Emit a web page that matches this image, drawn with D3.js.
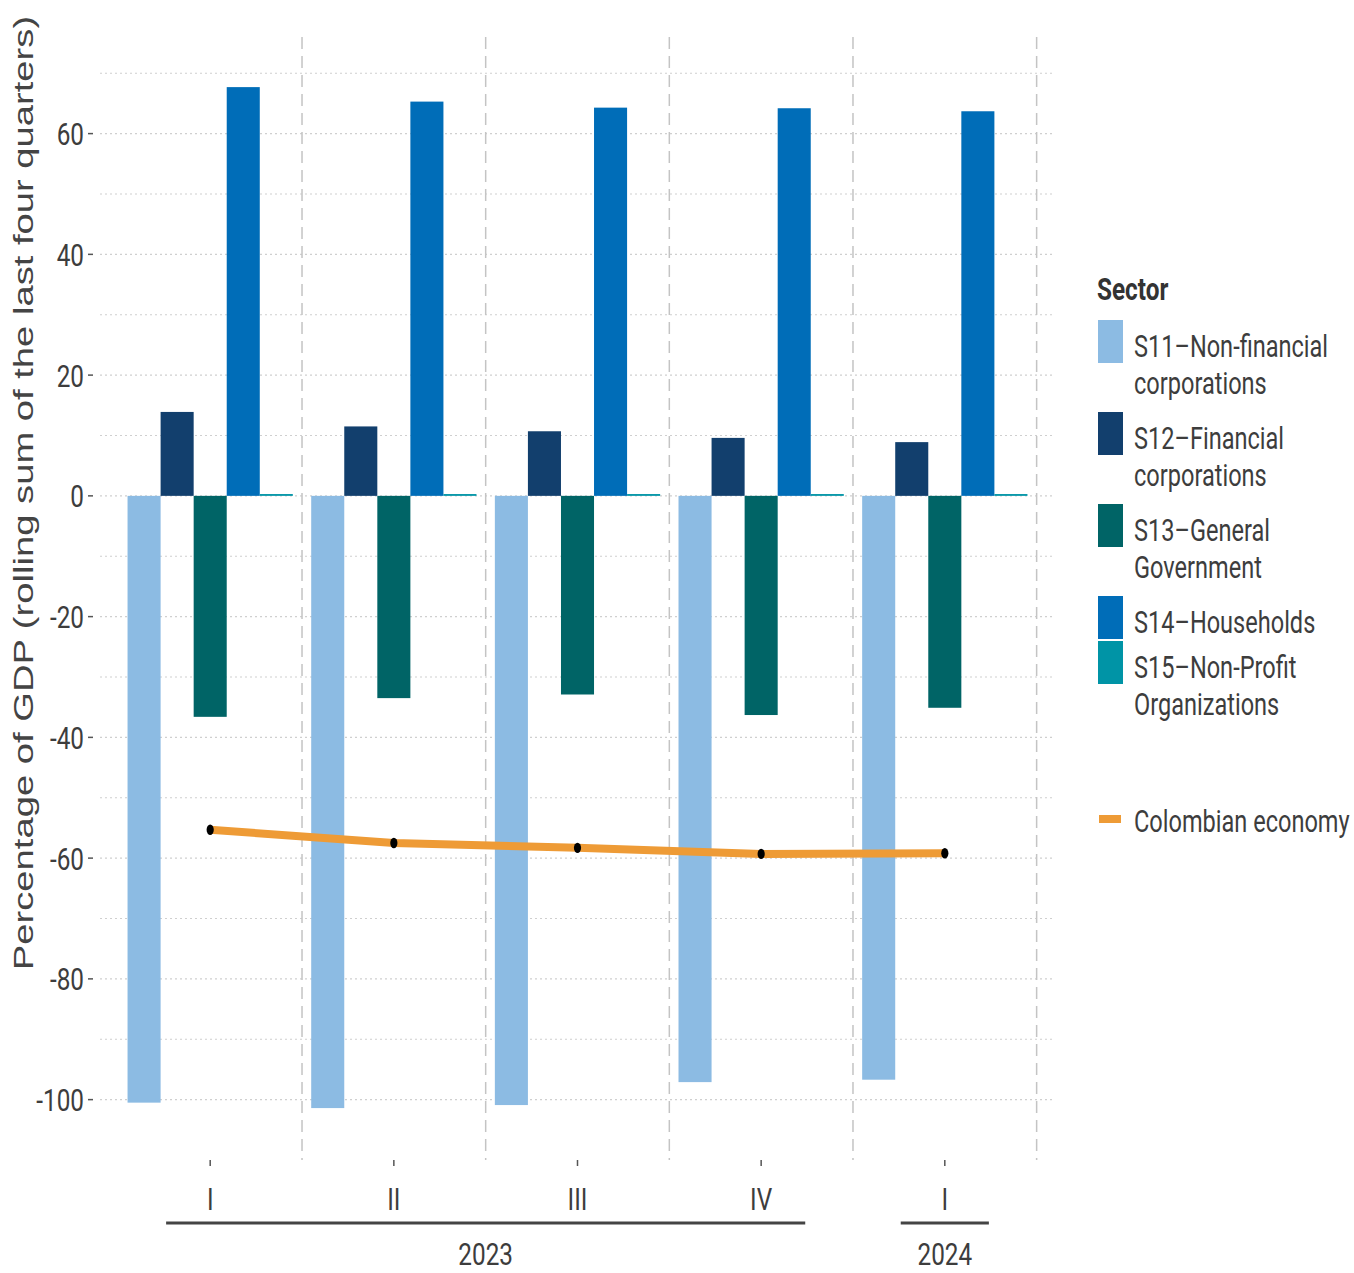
<!DOCTYPE html>
<html>
<head>
<meta charset="utf-8">
<script src="https://cdn.jsdelivr.net/npm/d3@7"></script>
<style>
  body { margin: 0; background: #fff; }
  .cond { font-family: "Roboto", "Liberation Sans", sans-serif; }
</style>
</head>
<body>
<svg id="canvas" width="1354" height="1273"></svg>
<script>
// periods on the x axis
let periods = ['2023-I', '2023-II', '2023-III', '2023-IV', '2024-I']
let quarterLabels = ['I', 'II', 'III', 'IV', 'I']
let years = ['2023', '2024']
let yearSpans = [[0, 3], [4, 4]]   // first and last period index of each year

// sectors
let sectors = ['S11', 'S12', 'S13', 'S14', 'S15']
let sectorNames = [
    ['S11\u2013Non-financial', 'corporations'],
    ['S12\u2013Financial', 'corporations'],
    ['S13\u2013General', 'Government'],
    ['S14\u2013Households'],
    ['S15\u2013Non-Profit', 'Organizations']
]
let sectorColors = ['#8cbbe3', '#123f6d', '#006466', '#006db8', '#0094a6']

// values, % of GDP
let s11 = [-100.5, -101.4, -100.9, -97.1, -96.7]
let s12 = [13.9, 11.5, 10.7, 9.6, 8.9]
let s13 = [-36.6, -33.5, -32.9, -36.3, -35.1]
let s14 = [67.7, 65.3, 64.3, 64.2, 63.7]
let s15 = [0.3, 0.3, 0.3, 0.3, 0.3]
let economy = [-55.3, -57.5, -58.3, -59.3, -59.2]

let yTicks = [-100, -80, -60, -40, -20, 0, 20, 40, 60]
let yMinor = [-90, -70, -50, -30, -10, 10, 30, 50, 70]

let seriesValues = [s11, s12, s13, s14, s15]

let canvas = d3.select('#canvas')

// the reference text is squeezed sideways
let squeeze = 0.76
let place = (x, y) => 'translate(' + x + ',' + y + ') scale(' + squeeze + ',1)'

let xScale = d3.scaleBand()
                .domain(periods)
                .range([100, 1055])
                .paddingInner(0)
                .paddingOuter(0.1)

let innerScale = d3.scaleBand()
                .domain(sectors)
                .range([xScale.bandwidth() * 0.05, xScale.bandwidth() * 0.95])

let yScale = d3.scaleLinear()
                .domain([-110, 76])
                .range([1160, 37])

let center = (p) => xScale(p) + xScale.bandwidth() / 2

// gridlines
canvas.append('g')
    .selectAll('line')
    .data(yTicks.concat(yMinor))
    .enter()
    .append('line')
    .attr('x1', 100)
    .attr('x2', 1055)
    .attr('y1', (v) => yScale(v))
    .attr('y2', (v) => yScale(v))
    .attr('stroke', '#cfcfcf')
    .attr('stroke-width', 1.2)
    .attr('stroke-dasharray', '2,3')

// dashed separators between periods
canvas.append('g')
    .selectAll('line')
    .data(periods)
    .enter()
    .append('line')
    .attr('x1', (p) => xScale(p) + xScale.bandwidth())
    .attr('x2', (p) => xScale(p) + xScale.bandwidth())
    .attr('y1', yScale.range()[1])
    .attr('y2', yScale.range()[0])
    .attr('stroke', '#c4c4c4')
    .attr('stroke-width', 1.5)
    .attr('stroke-dasharray', '12,7')

// bars
let bars = []
periods.forEach((p, i) => {
    sectors.forEach((s, j) => {
        bars.push({period: p, sector: s, value: seriesValues[j][i], color: sectorColors[j]})
    })
})

canvas.append('g')
    .selectAll('rect')
    .data(bars)
    .enter()
    .append('rect')
    .attr('x', (d) => xScale(d.period) + innerScale(d.sector))
    .attr('width', innerScale.bandwidth())
    .attr('y', (d) => yScale(Math.max(0, d.value)))
    .attr('height', (d) => Math.abs(yScale(d.value) - yScale(0)))
    .attr('fill', (d) => d.color)

// Colombian economy line
let line = d3.line()
            .x((d, i) => center(periods[i]))
            .y((d) => yScale(d))

canvas.append('path')
    .datum(economy)
    .attr('d', line)
    .attr('fill', 'none')
    .attr('stroke', '#ee9b36')
    .attr('stroke-width', 8)

canvas.append('g')
    .selectAll('ellipse')
    .data(economy)
    .enter()
    .append('ellipse')
    .attr('cx', (d, i) => center(periods[i]))
    .attr('cy', (d) => yScale(d))
    .attr('rx', 3.6)
    .attr('ry', 5.2)
    .attr('fill', '#000')

// y axis
let yAxis = canvas.append('g').attr('class', 'cond')
yAxis.selectAll('line')
    .data(yTicks)
    .enter()
    .append('line')
    .attr('x1', 88)
    .attr('x2', 93)
    .attr('y1', (v) => yScale(v))
    .attr('y2', (v) => yScale(v))
    .attr('stroke', '#555')
    .attr('stroke-width', 1.5)
yAxis.selectAll('text')
    .data(yTicks)
    .enter()
    .append('text')
    .attr('transform', (v) => place(84, yScale(v)))
    .attr('dy', '0.36em')
    .attr('text-anchor', 'end')
    .attr('font-size', 32)
    .attr('fill', '#3d3d3d')
    .text((v) => v)

// y title, stretched along its length like the reference
canvas.append('text')
    .attr('transform', 'translate(33, 493) rotate(-90) scale(1.34,1)')
    .attr('text-anchor', 'middle')
    .attr('font-family', 'Liberation Sans, Arial, sans-serif')
    .attr('font-size', 28.5)
    .attr('fill', '#444')
    .text('Percentage of GDP (rolling sum of the last four quarters)')

// x axis
let xAxis = canvas.append('g').attr('class', 'cond')
xAxis.selectAll('line')
    .data(periods)
    .enter()
    .append('line')
    .attr('x1', (p) => center(p))
    .attr('x2', (p) => center(p))
    .attr('y1', 1160)
    .attr('y2', 1166)
    .attr('stroke', '#555')
    .attr('stroke-width', 1.5)
xAxis.selectAll('text')
    .data(periods)
    .enter()
    .append('text')
    .attr('transform', (p) => place(center(p), 1210))
    .attr('text-anchor', 'middle')
    .attr('font-size', 32)
    .attr('fill', '#3d3d3d')
    .text((p, i) => quarterLabels[i])

let yearGroup = xAxis.selectAll('g.year')
    .data(years)
    .enter()
    .append('g')
    .attr('class', 'year')
yearGroup.append('line')
    .attr('x1', (y, i) => center(periods[yearSpans[i][0]]) - xScale.bandwidth() * 0.24)
    .attr('x2', (y, i) => center(periods[yearSpans[i][1]]) + xScale.bandwidth() * 0.24)
    .attr('y1', 1223)
    .attr('y2', 1223)
    .attr('stroke', '#444')
    .attr('stroke-width', 3)
yearGroup.append('text')
    .attr('transform', (y, i) => place((center(periods[yearSpans[i][0]]) + center(periods[yearSpans[i][1]])) / 2, 1265))
    .attr('text-anchor', 'middle')
    .attr('font-size', 32)
    .attr('fill', '#3d3d3d')
    .text((y) => y)

// legend
let legend = canvas.append('g').attr('class', 'cond')
legend.append('text')
    .attr('transform', place(1097, 300))
    .attr('font-size', 32)
    .attr('font-weight', 'bold')
    .attr('fill', '#333')
    .text('Sector')

let rowY = 320
sectors.forEach((s, j) => {
    let lines = sectorNames[j]
    legend.append('rect')
        .attr('x', 1098)
        .attr('y', rowY)
        .attr('width', 25)
        .attr('height', 43)
        .attr('fill', sectorColors[j])
    lines.forEach((t, k) => {
        legend.append('text')
            .attr('transform', place(1134, rowY + 37 + k * 37))
            .attr('font-size', 31)
            .attr('fill', '#3d3d3d')
            .text(t)
    })
    rowY += lines.length > 1 ? 92 : 45
})

legend.append('line')
    .attr('x1', 1099)
    .attr('x2', 1121)
    .attr('y1', 819)
    .attr('y2', 819)
    .attr('stroke', '#ee9b36')
    .attr('stroke-width', 8)
legend.append('text')
    .attr('transform', place(1134, 832))
    .attr('font-size', 31)
    .attr('fill', '#3d3d3d')
    .text('Colombian economy')
</script>
</body>
</html>
